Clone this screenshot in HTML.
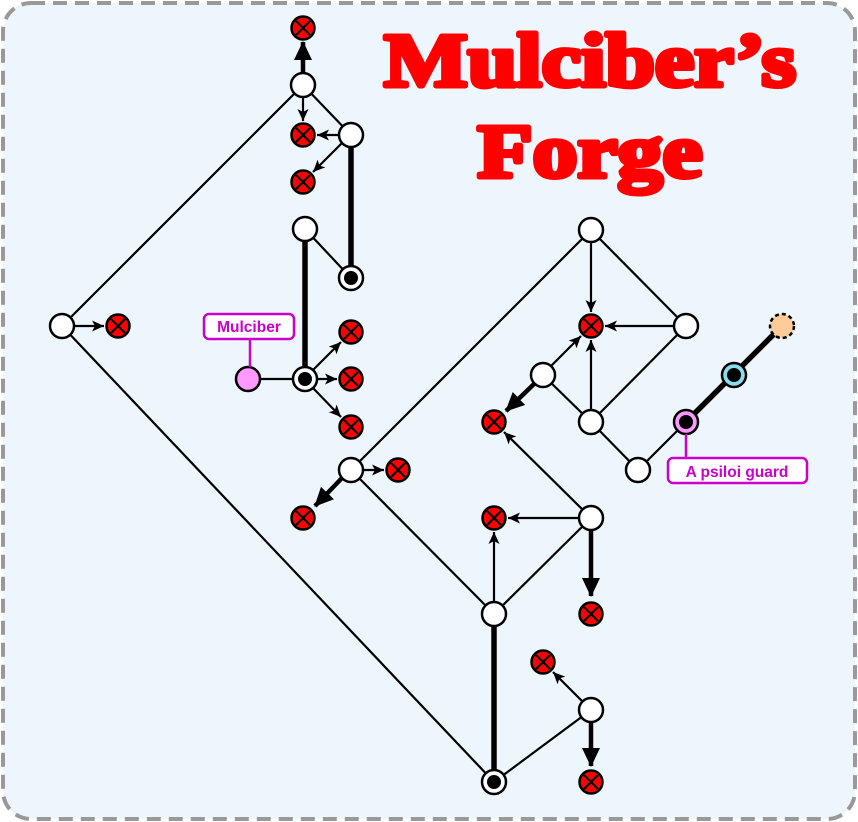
<!DOCTYPE html>
<html><head><meta charset="utf-8"><style>
html,body{margin:0;padding:0;background:#fff;}
svg{display:block;}
</style></head><body>
<svg width="858" height="822" viewBox="0 0 858 822" xmlns="http://www.w3.org/2000/svg">
<defs>
<marker id="ah" markerUnits="userSpaceOnUse" markerWidth="13" markerHeight="11" refX="12" refY="5.5" orient="auto"><path d="M0,0 L12,5.5 L0,11 L3,5.5 Z" fill="#000"/></marker>
<marker id="AH" markerUnits="userSpaceOnUse" markerWidth="20" markerHeight="18" refX="18" refY="9" orient="auto"><path d="M0,0 L19,9 L0,18 Z" fill="#000"/></marker>
<g id="x"><circle r="11.5" fill="#f00" stroke="#000" stroke-width="2.5"/><path d="M-7,-7 L7,7 M7,-7 L-7,7" stroke="#000" stroke-width="2.2"/></g>
</defs>
<rect x="3" y="3" width="852" height="816" rx="28" fill="#eef6fd" stroke="#999" stroke-width="4" stroke-dasharray="14,8"/>
<g font-family="Liberation Serif, serif" font-weight="bold" font-size="76" fill="#f00" stroke="#f00" stroke-width="5" stroke-linejoin="round" text-anchor="middle">
<text x="590" y="86" textLength="412" lengthAdjust="spacingAndGlyphs">Mulciber’s</text>
<text x="590" y="177" textLength="225" lengthAdjust="spacingAndGlyphs">Forge</text>
</g>
<g stroke="#000" stroke-width="2.2" fill="none">
<line x1="62" y1="326" x2="303" y2="85"/>
<line x1="62" y1="326" x2="494" y2="782"/>
<line x1="303" y1="85" x2="351" y2="135"/>
<line x1="305" y1="229" x2="351" y2="278"/>
<line x1="248" y1="379" x2="305" y2="379"/>
<line x1="351" y1="470" x2="494" y2="614"/>
<line x1="351" y1="470" x2="591" y2="230"/>
<line x1="494" y1="614" x2="591" y2="518"/>
<line x1="494" y1="782" x2="591" y2="710"/>
<line x1="591" y1="230" x2="686" y2="326"/>
<line x1="686" y1="326" x2="591" y2="422"/>
<line x1="543" y1="375" x2="591" y2="422"/>
<line x1="591" y1="422" x2="638" y2="470"/>
<line x1="638" y1="470" x2="686" y2="422"/>
</g>
<g stroke="#000" stroke-width="5.5">
<line x1="351" y1="135" x2="351" y2="278"/>
<line x1="305" y1="229" x2="305" y2="379"/>
<line x1="494" y1="614" x2="494" y2="782"/>
<line x1="686" y1="422" x2="782" y2="326"/>
</g>
<g stroke="#000" stroke-width="2.2" marker-end="url(#ah)">
<line x1="303" y1="97" x2="303" y2="121"/>
<line x1="339" y1="135" x2="317" y2="135"/>
<line x1="342" y1="143" x2="313" y2="172"/>
<line x1="74" y1="326" x2="104" y2="326"/>
<line x1="313" y1="370" x2="341" y2="342"/>
<line x1="317" y1="379" x2="337" y2="379"/>
<line x1="313" y1="388" x2="341" y2="417"/>
<line x1="363" y1="470" x2="384" y2="470"/>
<line x1="591" y1="242" x2="591" y2="312"/>
<line x1="674" y1="326" x2="605" y2="326"/>
<line x1="551" y1="366" x2="581" y2="336"/>
<line x1="591" y1="410" x2="591" y2="340"/>
<line x1="582" y1="509" x2="504" y2="432"/>
<line x1="579" y1="518" x2="508" y2="518"/>
<line x1="494" y1="602" x2="494" y2="532"/>
<line x1="582" y1="701" x2="553" y2="672"/>
</g>
<g stroke="#000" stroke-width="4.5" marker-end="url(#AH)">
<line x1="303" y1="73" x2="303" y2="42"/>
<line x1="342" y1="478" x2="315" y2="506"/>
<line x1="534" y1="384" x2="506" y2="411"/>
<line x1="591" y1="530" x2="591" y2="596"/>
<line x1="591" y1="722" x2="591" y2="766"/>
</g>
<g fill="#fff" stroke="#000" stroke-width="2.5">
<circle cx="303" cy="85" r="12"/><circle cx="351" cy="135" r="12"/><circle cx="305" cy="229" r="12"/>
<circle cx="351" cy="278" r="12"/><circle cx="62" cy="326" r="12"/><circle cx="305" cy="379" r="12"/>
<circle cx="351" cy="470" r="12"/><circle cx="591" cy="230" r="12"/><circle cx="686" cy="326" r="12"/>
<circle cx="543" cy="375" r="12"/><circle cx="591" cy="422" r="12"/><circle cx="638" cy="470" r="12"/>
<circle cx="591" cy="518" r="12"/><circle cx="494" cy="614" r="12"/><circle cx="591" cy="710" r="12"/>
<circle cx="494" cy="782" r="12"/>
<circle cx="248" cy="379" r="12" fill="#f9f"/>
<circle cx="686" cy="422" r="12" fill="#f9f"/>
<circle cx="734" cy="375" r="12" fill="#8de"/>
<circle cx="782" cy="326" r="12" fill="#fc9" stroke-dasharray="4,3"/>
</g>
<g fill="#000">
<circle cx="351" cy="278" r="7"/><circle cx="305" cy="379" r="7"/><circle cx="494" cy="782" r="7"/>
<circle cx="686" cy="422" r="7"/><circle cx="734" cy="375" r="7"/>
</g>
<use href="#x" x="303" y="28"/><use href="#x" x="303" y="135"/><use href="#x" x="303" y="182"/>
<use href="#x" x="118" y="326"/><use href="#x" x="351" y="332"/><use href="#x" x="351" y="379"/>
<use href="#x" x="351" y="427"/><use href="#x" x="591" y="326"/><use href="#x" x="494" y="422"/>
<use href="#x" x="398" y="470"/><use href="#x" x="303" y="518"/><use href="#x" x="494" y="518"/>
<use href="#x" x="591" y="614"/><use href="#x" x="543" y="662"/><use href="#x" x="591" y="782"/>
<g stroke="#c0c" stroke-width="2.5" fill="#fff">
<line x1="250" y1="339" x2="250" y2="367"/>
<rect x="204" y="314" width="90" height="25" rx="5"/>
<line x1="686" y1="434" x2="686" y2="458"/>
<rect x="668" y="458" width="139" height="25" rx="5"/>
</g>
<g font-family="Liberation Sans, sans-serif" font-weight="bold" font-size="15.5" fill="#c0c" text-anchor="middle">
<text x="249" y="332">Mulciber</text>
<text x="737" y="477">A psiloi guard</text>
</g>
</svg>
</body></html>
